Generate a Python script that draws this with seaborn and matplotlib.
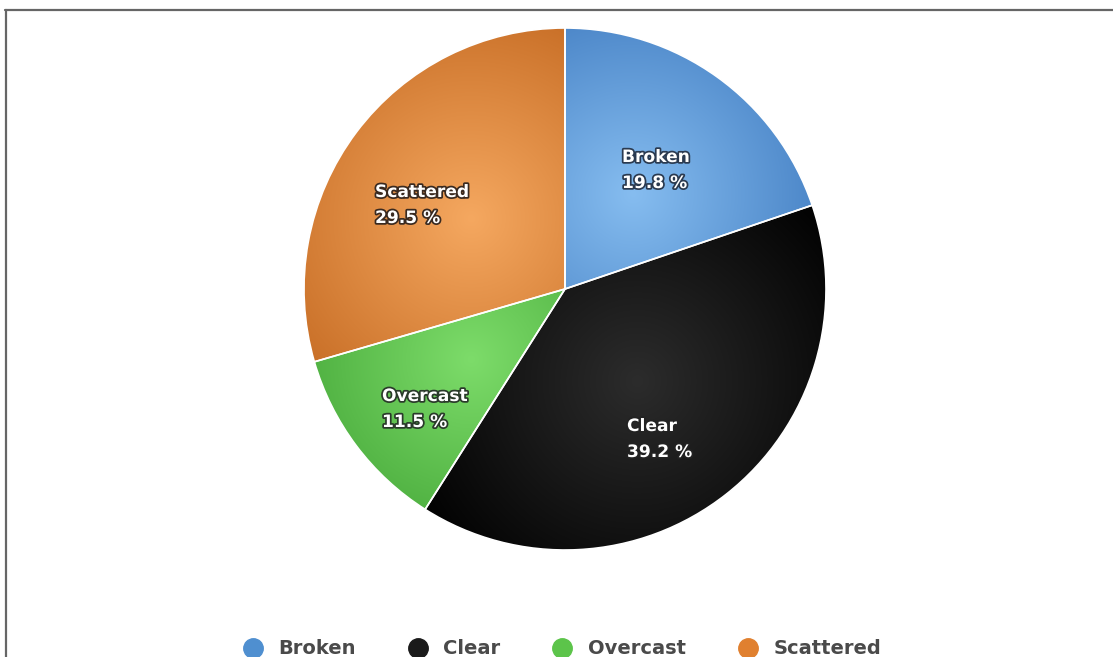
import numpy as np
import matplotlib
matplotlib.use("Agg")
import matplotlib.pyplot as plt
import matplotlib.patheffects as pe
from matplotlib.lines import Line2D
import seaborn as sns

categories = ["Broken", "Clear", "Overcast", "Scattered"]
values = [19.8, 39.2, 11.5, 29.5]
base_colors = ["#5b9ad8", "#151515", "#58c046", "#e8893a"]
light_colors = ["#86bdf0", "#2c2c2c", "#7ddc6a", "#f5a860"]
dark_colors = ["#3470b8", "#000000", "#35982a", "#c0641c"]
legend_colors = ["#4f8fd0", "#1a1a1a", "#5cc44a", "#e0802f"]

sns.set_theme(style="white")
plt.rcParams['font.family'] = ['DejaVu Sans']

W, H = 1113, 657
fig = plt.figure(figsize=(W / 100, H / 100), dpi=100)
ax = fig.add_axes([0, 0, 1, 1])

cx, cy, R = 565, H - 289, 261
wedges, _ = ax.pie(values, colors=base_colors, startangle=90, counterclock=False,
                   center=(cx, cy), radius=R, frame=True,
                   wedgeprops=dict(edgecolor="white", linewidth=1.2))
ax.set_xlim(0, W)
ax.set_ylim(0, H)
ax.set_aspect('equal')
ax.axis('off')

# radial gradient shading per slice
xs = np.linspace(cx - R, cx + R, 400)
ys = np.linspace(cy - R, cy + R, 400)
XX, YY = np.meshgrid(xs, ys)
for w, lc, dc in zip(wedges, light_colors, dark_colors):
    mid = np.deg2rad((w.theta1 + w.theta2) / 2)
    gx = cx + 0.45 * R * np.cos(mid)
    gy = cy + 0.45 * R * np.sin(mid)
    d = np.clip(np.hypot(XX - gx, YY - gy) / (1.0 * R), 0, 1)
    l = np.array(matplotlib.colors.to_rgb(lc))
    k = np.array(matplotlib.colors.to_rgb(dc))
    img = l[None, None, :] * (1 - d[..., None]) + k[None, None, :] * d[..., None]
    im = ax.imshow(img, extent=(cx - R, cx + R, cy - R, cy + R), origin='lower',
                   zorder=w.get_zorder() + 0.1, interpolation='bilinear')
    im.set_clip_path(w)
    w2 = matplotlib.patches.Wedge((cx, cy), R, w.theta1, w.theta2, facecolor='none',
                                  edgecolor='white', linewidth=1.2, zorder=w.get_zorder() + 0.2)
    ax.add_patch(w2)
ax.set_xlim(0, W)
ax.set_ylim(0, H)

# data labels (left-aligned, two lines)
label_pos = [(622, 157), (627, 426), (382, 396), (375, 192)]
strokes = ['#2a3a50', '#222222', '#2a3a2a', '#3a2a20']
for (x, y), cat, v, sc in zip(label_pos, categories, values, strokes):
    for j, s in enumerate([cat, f"{v} %"]):
        t = ax.text(x, H - y - 26 * j, s, ha='left', va='center', color='white',
                    fontsize=12.3, fontweight='bold', zorder=10)
        t.set_path_effects([pe.withStroke(linewidth=2.5, foreground=sc)])

# legend
handles = [Line2D([0], [0], marker='o', linestyle='none', markersize=14,
                  markerfacecolor=c, markeredgecolor=c) for c in legend_colors]
leg = fig.legend(handles, categories, loc='center', bbox_to_anchor=(561 / W, 8 / H),
                 ncol=4, frameon=False, handlelength=1.2, handletextpad=0.7,
                 columnspacing=2.6, prop=dict(size=14, weight='bold'),
                 labelcolor='#4a4a4a')

# frame border lines (top and left)
fig.add_artist(Line2D([5 / W, 1], [1 - 9.5 / H, 1 - 9.5 / H], transform=fig.transFigure,
                      color='#666666', linewidth=1.6))
fig.add_artist(Line2D([5.5 / W, 5.5 / W], [0, 1 - 9.5 / H], transform=fig.transFigure,
                      color='#666666', linewidth=1.6))

fig.savefig("out.png", dpi=100)
